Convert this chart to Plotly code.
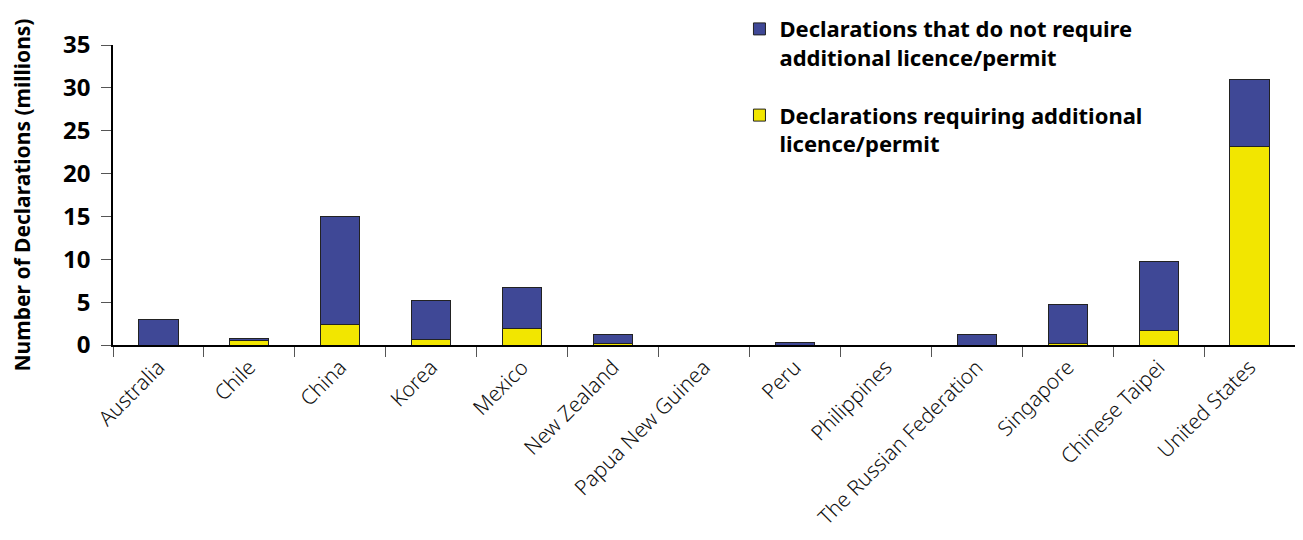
import plotly.graph_objects as go

categories = ["Australia", "Chile", "China", "Korea", "Mexico", "New Zealand",
              "Papua New Guinea", "Peru", "Philippines", "The Russian Federation",
              "Singapore", "Chinese Taipei", "United States"]
totals = [3.0, 0.75, 15.05, 5.25, 6.75, 1.25, 0.0, 0.25, 0.0, 1.2, 4.75, 9.75, 31.0]
requiring = [0.0, 0.5, 2.45, 0.7, 1.95, 0.2, 0.0, 0.0, 0.0, 0.0, 0.2, 1.7, 23.2]
not_requiring = [round(t - r, 3) for t, r in zip(totals, requiring)]
y_ticks = [0, 5, 10, 15, 20, 25, 30, 35]

BLUE = "#3F4896"
YELLOW = "#F2E600"
FONT = "Noto Sans"

fig = go.Figure()
fig.add_trace(go.Bar(
    x=categories, y=requiring,
    name="Declarations requiring additional<br>licence/permit",
    marker=dict(color=YELLOW, line=dict(color="#222222", width=1)),
    width=0.43, legendrank=2, legendgroup="b",
))
fig.add_trace(go.Bar(
    x=categories, y=not_requiring,
    name="Declarations that do not require<br>additional licence/permit",
    marker=dict(color=BLUE, line=dict(color="#222222", width=1)),
    width=0.43, legendrank=1, legendgroup="a",
))

fig.update_layout(
    barmode="stack",
    width=1287, height=524,
    margin=dict(l=105, r=0, t=37, b=187, autoexpand=False),
    plot_bgcolor="white", paper_bgcolor="white",
    font=dict(family=FONT, color="black"),
    showlegend=True,
    legend=dict(
        x=0.53, y=1.123, xanchor="left", yanchor="top",
        font=dict(family=FONT, size=22, color="black", weight="bold"),
        bgcolor="rgba(0,0,0,0)",
        tracegroupgap=26, valign="top",
        itemwidth=30,
    ),
    xaxis=dict(
        type="category", automargin=False,
        showline=True, linecolor="black", linewidth=1.5,
        ticks="outside", ticklen=10, tickcolor="#555555", tickson="boundaries",
        tickangle=-45,
        tickfont=dict(family=FONT, size=21, color="#111111", weight=300),
        showgrid=False,
    ),
    yaxis=dict(
        range=[0, 35], tickvals=y_ticks, automargin=False,
        showline=True, linecolor="black", linewidth=1.5,
        ticks="outside", ticklen=10, tickcolor="#555555",
        ticklabelstandoff=6,
        tickfont=dict(family=FONT, size=24, color="black", weight="bold"),
        showgrid=False, zeroline=False,
        title=dict(text="Number of Declarations (millions)",
                   font=dict(family=FONT, size=21, color="black", weight="bold"),
                   standoff=35),
    ),
)

fig.write_html("out.html")
